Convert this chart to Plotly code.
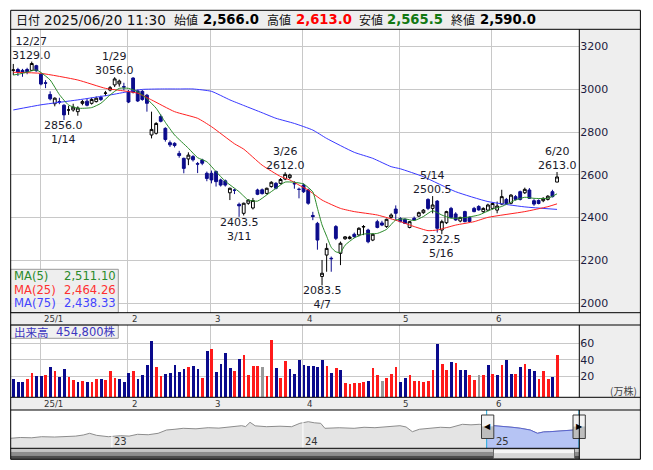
import plotly.graph_objects as go

# page body has an 8px margin, so the figure is drawn 8px in from the window corner
OFF = 8
W, H = 653 - OFF, 470 - OFF
def fx(x): return (x - OFF) / W
def fy(y): return 1 - (y - OFF) / H

# ---------------- data ----------------
dates = ["12/23","12/24","12/25","12/26","12/27","12/30",
 "1/6","1/7","1/8","1/9","1/10","1/14","1/15","1/16","1/17","1/20","1/21","1/22","1/23","1/24","1/27","1/28","1/29","1/30","1/31",
 "2/3","2/4","2/5","2/6","2/7","2/10","2/12","2/13","2/14","2/17","2/18","2/19","2/20","2/21","2/25","2/26","2/27","2/28",
 "3/3","3/4","3/5","3/6","3/7","3/10","3/11","3/12","3/13","3/14","3/17","3/18","3/19","3/21","3/24","3/25","3/26","3/27","3/28","3/31",
 "4/1","4/2","4/3","4/4","4/7","4/8","4/9","4/10","4/11","4/14","4/15","4/16","4/17","4/18","4/21","4/22","4/23","4/24","4/25","4/28","4/30",
 "5/1","5/2","5/7","5/8","5/9","5/12","5/13","5/14","5/15","5/16","5/19","5/20","5/21","5/22","5/23","5/26","5/27","5/28","5/29","5/30",
 "6/2","6/3","6/4","6/5","6/6","6/9","6/10","6/11","6/12","6/13","6/16","6/17","6/18","6/19","6/20"]

opens = [3088,3092,3088,3092,3088,3110,
 3070,3030,2975,2932,2942,2925,2903,2903,2895,2934,2944,2934,2942,2962,2981,2996,3020,3025,3012,
 2987,3052,2992,2990,2972,2786,2794,2872,2817,2750,2747,2700,2677,2674,2685,2652,2669,2607,
 2607,2615,2576,2572,2516,2528,2462,2420,2467,2445,2529,2530,2513,2545,2560,2560,2580,2587,2560,2532,
 2552,2529,2410,2373,2125,2225,2210,2358,2233,2301,2302,2322,2319,2356,2342,2295,2381,2375,2358,2401,2440,
 2396,2392,2354,2397,2407,2423,2485,2443,2477,2342,2376,2443,2417,2384,2428,2401,2443,2452,2428,2435,
 2443,2435,2463,2485,2467,2498,2521,2516,2529,2479,2480,2479,2485,2521,2566]
highs = [3118,3100,3095,3100,3129,3114,
 3072,3042,2990,2962,2960,2930,2922,2932,2920,2950,2955,2960,2966,2970,2992,3015,3056,3045,3030,
 2996,3056,2998,2996,2978,2895,2846,2882,2822,2760,2752,2712,2680,2705,2692,2660,2675,2615,
 2620,2620,2582,2578,2540,2535,2470,2470,2485,2492,2535,2536,2540,2570,2566,2585,2612,2605,2570,2540,
 2560,2535,2427,2380,2202,2280,2218,2365,2288,2314,2315,2330,2355,2365,2348,2326,2390,2385,2395,2420,2457,
 2402,2396,2384,2405,2428,2440,2490,2500.5,2482,2390,2432,2450,2425,2404,2432,2405,2450,2458,2448,2465,
 2470,2475,2530,2492,2510,2505,2526,2540,2538,2486,2485,2495,2505,2530,2613]
lows = [3066,3062,3058,3070,3085,3082,
 3018,3005,2948,2920,2930,2856,2880,2895,2876,2925,2920,2928,2938,2945,2968,2990,3010,3012,2995,
 2935,2980,2940,2946,2895,2770,2788,2845,2755,2730,2728,2680,2607,2645,2662,2608,2645,2570,
 2560,2545,2545,2545,2482,2510,2403.5,2410,2460,2438,2505,2508,2508,2540,2532,2555,2575,2580,2535,2490,
 2515,2460,2388,2250,2083.5,2147,2147,2295,2178,2296,2298,2305,2312,2318,2280,2290,2350,2360,2352,2396,2390,
 2378,2370,2350,2385,2403,2418,2435,2420,2330,2322.5,2370,2398,2385,2378,2378,2378,2425,2432,2422,2430,
 2438,2420,2458,2460,2462,2480,2480,2510,2488,2455,2462,2472,2480,2494,2565.5]
closes = [3090,3080,3078,3082,3120,3086,
 3024,3028,2955,2958,2940,2880,2903,2916,2912,2942,2925,2952,2958,2952,2982,3007,3048,3038,3010,
 2940,2986,2945,2952,2934,2812,2840,2850,2765,2740,2737,2690,2630,2692,2670,2650,2654,2583,
 2576,2568,2552,2552,2537,2528,2455,2467,2482,2480,2509,2512,2537,2565,2537,2578,2602,2599,2558,2532,
 2521,2467,2405,2295,2140,2256,2208,2303,2280,2310,2309,2311,2350,2358,2287,2322,2354,2365,2392,2412,2420,
 2381,2373,2381,2389,2423,2435,2443,2459,2350,2381,2428,2401,2389,2401,2381,2382,2428,2436,2443,2459,
 2466,2454,2498,2466,2505,2485,2485,2532,2490,2463,2466,2490,2500,2498,2590]

# volume (万株) and bar colour code: r = up, b = down, g = unchanged
volumes = [17.2,14,14,17.2,24.8,20.8,20.8,22,32,26.8,
 19.6,29.2,19.6,16.4,14,15.2,14,14,17.2,17.2,
 16.4,26.8,18.4,17.2,14,24.8,26.8,17.2,22,34,
 62.8,32,20.8,23.6,24.8,34,25.6,29.2,32,32.4,
 29.2,18.4,51.2,53.2,25.6,35.6,48.4,30.4,26.8,41.2,
 46.4,22,33.2,33.2,31.6,20.8,64,30.4,18.4,38.8,
 29.2,23.6,40,34,32.8,32.8,31.6,40,32.8,24.8,
 30.4,28,12.8,11.2,12.8,12.8,14,15.2,30.4,22,
 15.2,18.4,23.6,31.6,14,18.4,22,15.2,15.2,14,
 15.2,28,59.6,35.2,28,38,36.8,28,28,22,
 16.4,22,22,34,23.6,22,34,40,23.6,23.6,
 31.6,35.2,29.2,26.8,17.2,26.8,17.2,19.6,45.48]
vol_dir = list("bbbrrbbrbr" "bbrrbrbrrb" "rrrbbbrbbb" "brrbbbbbrb"
               "brbrbbbbrb" "rrrrgrrbrr" "bbbbbbbbrb" "rbrrrrrbrr"
               "grrrbbrrrr" "rrbrrbrbbr" "rgrbrbrbbr" "brbbrrrbr")

# moving averages: (candle index, value)
ma5_i  = [0,2,5,6,8,10,12,14,17,19,21,23,25,27,29,31,33,35,38,40,42,44,46,49,51,53,55,57,59,61,63,65,66,67,68,69,70,71,72,74,76,79,81,83,85,87,89,91,93,95,98,101,104,106,109,111,113,116,118]
ma5_v  = [3066,3074,3090,3078,3043,2975,2926,2911,2914,2934,2973,3004,3004,2988,2955,2911,2845,2786,2724,2680,2661,2615,2570,2521,2482,2477,2506,2537,2566,2565,2557,2520,2444,2366,2313,2261,2240,2237,2271,2305,2323,2326,2345,2389,2394,2386,2405,2432,2412,2397,2400,2412,2440,2452,2482,2495,2490,2490,2511.10]
ma25_i = [0,6,14,20,24,27,30,35,40,43,48,50,54,58,60,62,64,67,71,74,79,84,87,90,92,96,100,103,111,116,118]
ma25_v = [3079,3074,3043,3004,2992,2981,2950,2895,2864,2825,2745,2720,2645,2592,2576,2552,2529,2482,2443,2428,2412,2381,2358,2339,2342,2365,2381,2401,2428,2451,2464.26]
ma75_i = [0,6,14,21,25,28,32,36,39,43,47,50,54,57,61,65,68,74,78,82,84,89,96,103,111,118]
ma75_v = [2903,2927,2950,2973,2989,2999,3001,3001,3001,2990,2950,2924,2890,2864,2840,2809,2770,2705,2677,2638,2628,2591,2521,2475,2450,2438.33]

# high / low callouts
callout_i    = [4, 22, 11, 59, 49, 67, 91, 93, 118]
callout_kind = ["high","high","low","high","low","low","high","low","high"]

month_labels = ["25/1","2","3","4","5","6"]
month_first  = ["1/6","2/3","3/3","4/1","5/1","6/2"]

# navigator: long-term price history (fractional year, price)
nav_year = [2022.468,2022.52,2022.58,2022.632,2022.70,2022.763,2022.81,2022.850,2022.883,2022.92,2022.981,
            2023.046,2023.09,2023.134,2023.19,2023.242,2023.286,2023.33,2023.373,2023.44,2023.504,2023.56,
            2023.614,2023.679,2023.70,2023.723,2023.75,2023.810,2023.88,2023.941,2023.984,2024.028,2024.06,
            2024.093,2024.115,2024.19,2024.268,2024.32,2024.377,2024.45,2024.508,2024.54,2024.573,2024.61,
            2024.661,2024.72,2024.770,2024.835,2024.88,2024.923,2024.962,2025.009,2025.053,2025.10,2025.140,
            2025.19,2025.228,2025.26,2025.293,2025.35,2025.402,2025.447]
nav_price = [1313,1420,1380,1523,1480,1523,1600,1746,1970,1700,1523,
             1654,1600,1838,1780,1970,2403,2500,2626,2560,2705,2650,
             2836,2967,2850,3414,2950,2836,2900,2836,3283,3493,3350,
             3283,2626,2700,2626,2760,2705,2850,2967,2800,2180,2500,
             2626,2760,2705,3151,3080,3151,3050,2967,2836,2750,2626,
             2400,1970,2150,2180,2300,2403,2450]
nav_years_lbl = ["23","24","25"]
nav_year_start = [2023.0, 2024.0, 2025.0]
window_start, window_end = 2024.962, 2025.445

header_items = [("日付",""),("2025/06/20 11:30",""),("始値",""),("2,566.0","#000000"),
                ("高値",""),("2,613.0","#ff0000"),("安値",""),("2,565.5","#127812"),("終値",""),("2,590.0","#000000")]

# ---------------- figure ----------------
FONT = "DejaVu Sans, Noto Sans CJK JP, sans-serif"
JFONT = "Noto Sans CJK JP, DejaVu Sans, sans-serif"
idx = list(range(len(closes)))
month_idx = [dates.index(d) for d in month_first]

fig = go.Figure()

X0, X1 = 10.7, 579.3
RIGHT = 640.4
TOP, HDR = 10.3, 29.3
PB, S1B = 312.7, 325.0
VB, S2B = 397.3, 410.0
NB, SB = 448.3, 459.3

# MA lines
fig.add_trace(go.Scatter(x=ma75_i, y=ma75_v, mode="lines", line=dict(color="#3838ff", width=1, shape="spline", smoothing=0.5),
                         hoverinfo="skip", showlegend=False))
fig.add_trace(go.Scatter(x=ma25_i, y=ma25_v, mode="lines", line=dict(color="#ff2020", width=1, shape="spline", smoothing=0.5),
                         hoverinfo="skip", showlegend=False))
fig.add_trace(go.Candlestick(x=idx, open=opens, high=highs, low=lows, close=closes,
                             increasing=dict(line=dict(color="#000000", width=1), fillcolor="#ffffff"),
                             decreasing=dict(line=dict(color="#0c0c8c", width=1), fillcolor="#0c0c8c"),
                             whiskerwidth=0, hoverinfo="skip", showlegend=False))
fig.add_trace(go.Scatter(x=ma5_i, y=ma5_v, mode="lines", line=dict(color="#2a8a2a", width=1, shape="spline", smoothing=0.5),
                         hoverinfo="skip", showlegend=False))

# volume
cmap = {"r": "#ff1a1a", "b": "#0a0a8c", "g": "#999999"}
fig.add_trace(go.Bar(x=idx, y=[v + 4.8 for v in volumes], base=-4.8, marker=dict(color=[cmap[c] for c in vol_dir], line=dict(width=0)),
                     width=0.6, xaxis="x2", yaxis="y2", hoverinfo="skip", showlegend=False))

# navigator
fig.add_trace(go.Scatter(x=nav_year, y=nav_price, mode="lines", line=dict(color="#8c8c8c", width=1),
                         fill="tozeroy", fillcolor="#e4e4e4", xaxis="x3", yaxis="y3", hoverinfo="skip", showlegend=False))
sel = [(a, b) for a, b in zip(nav_year, nav_price) if a >= window_start]
fig.add_trace(go.Scatter(x=[a for a, b in sel], y=[b for a, b in sel], mode="lines", line=dict(color="#5a64d0", width=1),
                         fill="tozeroy", fillcolor="#b6c4f4", xaxis="x3", yaxis="y3", hoverinfo="skip", showlegend=False))

shapes = []
def rect(x0, y0, x1, y1, fill, line=None, lw=1, layer="below"):
    shapes.append(dict(type="rect", xref="paper", yref="paper", x0=fx(x0), x1=fx(x1), y0=fy(y1), y1=fy(y0),
                       fillcolor=fill, line=dict(color=line or fill, width=lw if line else 0), layer=layer))
def hline(x0, x1, y, color="#000000", lw=1, layer="above"):
    shapes.append(dict(type="line", xref="paper", yref="paper", x0=fx(x0), x1=fx(x1), y0=fy(y), y1=fy(y),
                       line=dict(color=color, width=lw), layer=layer))
def vline(x, y0, y1, color="#000000", lw=1, layer="above"):
    shapes.append(dict(type="line", xref="paper", yref="paper", x0=fx(x), x1=fx(x), y0=fy(y0), y1=fy(y1),
                       line=dict(color=color, width=lw), layer=layer))

GRAY = "#eeeeee"
rect(X0, TOP, RIGHT, HDR, GRAY)
rect(X1, HDR, RIGHT, SB, GRAY)
rect(X0, PB, RIGHT, S1B, GRAY)
rect(X0, VB, RIGHT, S2B, GRAY)

# navigator year separators
for yv in nav_year_start[:2]:
    shapes.append(dict(type="line", xref="x3", yref="paper", x0=yv, x1=yv, y0=fy(NB), y1=fy(S2B),
                       line=dict(color="#ffffff", width=1), layer="above"))

# scrollbar
rect(X0, NB, X1, NB + 3.5, "#c4c4c4", layer="above")
rect(X0, NB + 3.5, X1, NB + 7.2, "#8c8c8c", layer="above")
rect(X0, NB + 7.2, X1, SB, "#4c4c4c", layer="above")
rect(493.5, NB + 0.5, 574.5, NB + 5.5, "#f6f6f6", layer="above")
rect(493.5, NB + 5.5, 574.5, SB - 0.5, "#d6d6d6", layer="above")
shapes.append(dict(type="rect", xref="paper", yref="paper", x0=fx(493.5), x1=fx(574.5), y0=fy(SB - 0.5), y1=fy(NB + 0.5),
                   line=dict(color="#6a6a6a", width=1), fillcolor="rgba(0,0,0,0)", layer="above"))

# window cyan lines + handles
for xv in (window_start, window_end):
    shapes.append(dict(type="line", xref="x3", yref="paper", x0=xv, x1=xv, y0=fy(NB), y1=fy(S2B),
                       line=dict(color="#22aadd", width=1), layer="above"))
for hx in (481.5, 573.0):
    rect(hx, 415.0, hx + 12.3, 426.5, "#f2f2f2", layer="above")
    rect(hx, 426.5, hx + 12.3, 438.5, "#bdbdbd", layer="above")
    shapes.append(dict(type="rect", xref="paper", yref="paper", x0=fx(hx), x1=fx(hx + 12.3), y0=fy(438.5), y1=fy(415.0),
                       line=dict(color="#3c3c3c", width=1), fillcolor="rgba(0,0,0,0)", layer="above"))

# legend boxes
rect(X0, 269.3, 118.3, PB, "rgba(236,236,236,0.88)", line="#9a9a9a", layer="above")
rect(X0, S1B, 118.3, 338.3, "rgba(240,240,240,0.95)", line="#9a9a9a", layer="above")

# frame lines
hline(X0, RIGHT, TOP); hline(X0, RIGHT, HDR)
hline(X0, RIGHT, PB); hline(X0, RIGHT, S1B)
hline(X0, RIGHT, VB); hline(X0, RIGHT, S2B)
hline(X0, X1, NB)
hline(X0, RIGHT, SB)
vline(X0, TOP, SB); vline(RIGHT, TOP, SB)
vline(X1, HDR, PB); vline(X1, S1B, VB); vline(X1, S2B, SB)

ann = []
# header
hx_pos = [14.0, 41.5, 172.5, 201.0, 264.5, 294.0, 356.5, 385.0, 448.5, 478.0]
for (txt, col), xp in zip(header_items, hx_pos):
    is_num = col != ""
    is_kanji = txt in ("日付", "始値", "高値", "安値", "終値")
    ann.append(dict(x=fx(xp), y=fy(19.8), xref="paper", yref="paper", xanchor="left", yanchor="middle",
                    text=f"<b>{txt}</b>" if is_num else txt, showarrow=False,
                    font=dict(family=JFONT if is_kanji else FONT, size=12 if is_kanji else (13.2 if is_num else 13.6),
                              color=col if is_num else "#111111")))

# callouts (two lines in one text)
for i, kind in zip(callout_i, callout_kind):
    if kind == "high":
        val = highs[i]
        txt = f"{dates[i]}<br>{val:.1f}"
        ann.append(dict(x=i, y=val, xref="x", yref="y", text=txt, showarrow=False, yshift=-1,
                        xanchor="center", yanchor="bottom", borderpad=0,
                        font=dict(family=FONT, size=11, color="#1a1a2a")))
    else:
        val = lows[i]
        txt = f"{val:.1f}<br>{dates[i]}"
        ann.append(dict(x=i, y=val, xref="x", yref="y", text=txt, showarrow=False, yshift=2,
                        xanchor="center", yanchor="top", borderpad=0,
                        font=dict(family=FONT, size=11, color="#1a1a2a")))

# month labels in both strips
for lbl, mi in zip(month_labels, month_idx):
    for yy, xr_ in ((318.8, "x"), (403.6, "x2")):
        ann.append(dict(x=mi - 0.2, y=fy(yy), xref=xr_, yref="paper", text=lbl, showarrow=False, xshift=2,
                        xanchor="left", yanchor="middle", font=dict(family=FONT, size=8.6, color="#333333")))

# MA legend
ma_rows = [("MA(5)", ma5_v[-1], "#2a8a2a", 276.0), ("MA(25)", ma25_v[-1], "#ff3030", 289.6), ("MA(75)", ma75_v[-1], "#4444ff", 303.2)]
for name, val, col, yy in ma_rows:
    ann.append(dict(x=fx(11.5), y=fy(yy), xref="paper", yref="paper", text=name, showarrow=False,
                    xanchor="left", yanchor="middle", font=dict(family=FONT, size=11.6, color=col)))
    ann.append(dict(x=fx(117.5), y=fy(yy), xref="paper", yref="paper", text=f"{val:,.2f}", showarrow=False,
                    xanchor="right", yanchor="middle", font=dict(family=FONT, size=11.6, color=col)))

# volume label
ann.append(dict(x=fx(11.5), y=fy(331.8), xref="paper", yref="paper", text="出来高", showarrow=False,
                xanchor="left", yanchor="middle", font=dict(family=JFONT, size=11.5, color="#3c36c0")))
ann.append(dict(x=fx(117.5), y=fy(331.8), xref="paper", yref="paper", text=f"{volumes[-1]*10000:,.0f}株", showarrow=False,
                xanchor="right", yanchor="middle", font=dict(family=FONT, size=11.5, color="#3c36c0")))
ann.append(dict(x=fx(638.5), y=fy(390.0), xref="paper", yref="paper", text="(万株)", showarrow=False,
                xanchor="right", yanchor="middle", font=dict(family=JFONT, size=10, color="#444444")))

# navigator year labels
for lbl, yv in zip(nav_years_lbl, nav_year_start):
    ann.append(dict(x=yv, y=fy(441.5), xref="x3", yref="paper", text=lbl, showarrow=False, xanchor="left",
                    yanchor="middle", font=dict(family=FONT, size=10, color="#333333")))
# handle arrows
ann.append(dict(x=fx(487.6), y=fy(426.7), xref="paper", yref="paper", text="◀", showarrow=False,
                xanchor="center", yanchor="middle", font=dict(family=FONT, size=8, color="#000000")))
ann.append(dict(x=fx(579.2), y=fy(426.7), xref="paper", yref="paper", text="▶", showarrow=False,
                xanchor="center", yanchor="middle", font=dict(family=FONT, size=8, color="#000000")))

xr = [-0.564, 122.83]
grid = "#c8c8c8"
fig.update_layout(
    width=W, height=H, autosize=False, margin=dict(l=0, r=0, t=0, b=0, pad=0),
    paper_bgcolor="#ffffff", plot_bgcolor="#ffffff", showlegend=False,
    shapes=shapes, annotations=ann, bargap=0, boxgap=0.12,
    xaxis=dict(domain=[fx(X0), fx(X1)], range=xr, tickvals=[m - 0.2 for m in month_idx], showticklabels=False,
               showgrid=True, gridcolor=grid, gridwidth=1, zeroline=False, showline=False, ticks="",
               rangeslider=dict(visible=False), fixedrange=True, anchor="y"),
    yaxis=dict(domain=[fy(PB), fy(HDR)], range=[1955.6, 3279.9], side="right", tickvals=list(range(2000, 3201, 200)),
               showgrid=True, gridcolor=grid, gridwidth=1, zeroline=False, showline=False, ticks="",
               tickfont=dict(family=FONT, size=11, color="#1c1c40"), fixedrange=True, anchor="x"),
    xaxis2=dict(domain=[fx(X0), fx(X1)], range=xr, tickvals=[m - 0.2 for m in month_idx], showticklabels=False,
                showgrid=True, gridcolor=grid, gridwidth=1, zeroline=False, showline=False, ticks="", fixedrange=True, anchor="y2"),
    yaxis2=dict(domain=[fy(VB), fy(S1B)], range=[-4.8, 82.0], side="right", tickvals=[20, 40, 60],
                showgrid=True, gridcolor=grid, gridwidth=1, zeroline=False, showline=False, ticks="",
                tickfont=dict(family=FONT, size=11, color="#1c1c40"), fixedrange=True, anchor="x2"),
    xaxis3=dict(domain=[fx(X0), fx(X1)], range=[2022.47, 2025.447], showticklabels=False, showgrid=False,
                zeroline=False, showline=False, ticks="", fixedrange=True, anchor="y3"),
    yaxis3=dict(domain=[fy(NB), fy(S2B)], range=[0, 5029], showticklabels=False, showgrid=False,
                zeroline=False, showline=False, ticks="", fixedrange=True, anchor="x3"),
)

fig.write_html("out.html")
